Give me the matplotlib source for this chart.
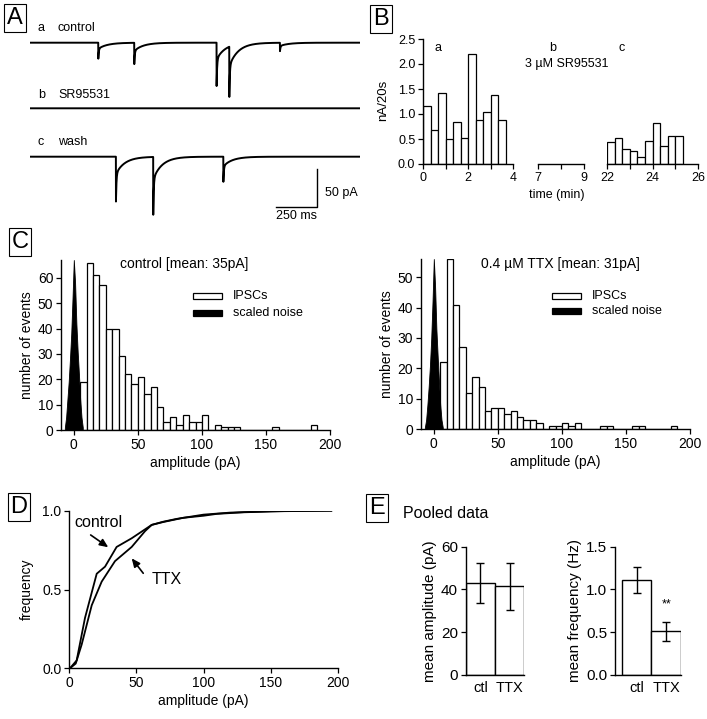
import numpy as np
import matplotlib
matplotlib.use("Agg")
import matplotlib.pyplot as plt
from matplotlib.patches import Rectangle

plt.rcParams['font.family'] = ['Liberation Sans', 'DejaVu Sans']

# ---------------- data ----------------
# Panel A: events (time ms, amplitude pA) in each sweep
trace_labels = ["a", "b", "c"]
trace_names = ["control", "SR95531", "wash"]
ev_a_t = [414, 632, 1131, 1208, 1515]
ev_a_amp = [21, 28, 57, 66, 11]
ev_b_t = []
ev_b_amp = []
ev_c_t = [521, 747, 1172]
ev_c_amp = [59, 76, 33]
scale_pA = 50
scale_ms = 250

# Panel B: charge per 20 s bin (nA/20s)
b_bin_min = 1 / 3
b_ctl_start = 0
b_ctl_vals = [1.17, 0.69, 1.42, 0.51, 0.85, 0.52, 2.21, 0.88, 1.04, 1.38, 0.89]
b_wash_start = 22
b_wash_vals = [0.44, 0.53, 0.31, 0.26, 0.15, 0.47, 0.83, 0.37, 0.57, 0.56]

# Panel C: amplitude histograms (5 pA bins, first bin starts at 5 pA)
hist_bin = 5
hist_start = 5
ctl_counts = [19, 66, 61, 57, 40, 40, 29, 22, 18, 21, 14, 17, 9, 3, 5, 2, 6, 3, 3, 6,
              0, 2, 1, 1, 1, 0, 0, 0, 0, 0, 1, 0, 0, 0, 0, 0, 2]
ttx_counts = [22, 56, 41, 27, 12, 17, 14, 6, 7, 7, 5, 6, 4, 3, 3, 2, 0, 1, 1, 2,
              1, 2, 0, 0, 0, 1, 1, 0, 0, 0, 1, 1, 0, 0, 0, 0, 1]
noise_x = [-7, -6, -5, -4, -3, -2, -1, 0, 1, 2, 3, 4, 5, 6, 7]
ctl_noise = [1, 5, 12, 19, 28, 38, 52, 67, 58, 42, 31, 22, 12, 5, 1]
ttx_noise = [0.5, 3, 8, 14, 21, 30, 42, 56, 47, 33, 24, 16, 8, 3, 0.5]

# Panel D: cumulative amplitude distributions
cdf_ctl_x = [0, 0.7, 5.7, 11.9, 20.6, 26.8, 35.4, 46.6, 61.5, 70, 80, 100, 120, 150, 195]
cdf_ctl_y = [0, 0, 0.05, 0.32, 0.60, 0.645, 0.77, 0.825, 0.91, 0.93, 0.948, 0.975, 0.988, 0.997, 1.0]
cdf_ttx_x = [0, 0.7, 5, 9.4, 16.9, 24.3, 34.2, 46.6, 56.5, 61.5, 70, 85, 100, 110, 130, 160, 195]
cdf_ttx_y = [0, 0, 0.03, 0.15, 0.40, 0.55, 0.68, 0.77, 0.87, 0.91, 0.928, 0.955, 0.968, 0.98, 0.99, 0.997, 1.0]

# Panel E: pooled data
e_cats = ["ctl", "TTX"]
e_amp = [43, 41.5]
e_amp_err = [9.5, 11]
e_freq = [1.11, 0.51]
e_freq_err = [0.15, 0.115]

# ---------------- layout helpers ----------------
W, H = 707, 719
fig = plt.figure(figsize=(W / 100, H / 100), dpi=100)


def add_ax(x0, y0, x1, y1):
    return fig.add_axes([x0 / W, 1 - y1 / H, (x1 - x0) / W, (y1 - y0) / H])


def ftext(x, y, s, **kw):
    kw.setdefault('va', 'center')
    return fig.text(x / W, 1 - y / H, s, **kw)


def box_letter(x, y, s):
    ftext(x, y, s, ha='center', fontsize=17,
          bbox=dict(boxstyle='square,pad=0.12', fc='white', ec='black', lw=0.8))


def style(ax, fs, left=True):
    for sp in ['top', 'right']:
        ax.spines[sp].set_visible(False)
    if not left:
        ax.spines['left'].set_visible(False)
        ax.tick_params(axis='y', left=False, labelleft=False)
    for sp in ['left', 'bottom']:
        ax.spines[sp].set_linewidth(1.0)
    ax.tick_params(direction='out', length=3.5, width=0.9, labelsize=fs, pad=2)
    ax.patch.set_alpha(0)


# ---------------- Panel A ----------------
axA = add_ax(30, 15, 360, 220)
axA.set_axis_off()
px_per_pA = 0.76
axA.set_xlim(0, 2000)
axA.set_ylim(-(220 - 30) / px_per_pA, (30 - 15) / px_per_pA)
t = np.arange(0, 2000, 0.5)


def sweep(times, amps):
    y = np.zeros_like(t)
    for ti, ai in zip(times, amps):
        dt = t - ti
        m = dt >= 0
        d = dt[m]
        y[m] -= ai * (0.62 * np.exp(-d / 3.0) + 0.38 * np.exp(-d / 55.0))
    return y


offsets = [-(42.7 - 30) / px_per_pA, -(108.3 - 30) / px_per_pA, -(156.7 - 30) / px_per_pA]
label_y = [28, 95, 142]
for (times, amps), off, lab, name, ly in zip([(ev_a_t, ev_a_amp), (ev_b_t, ev_b_amp), (ev_c_t, ev_c_amp)],
                                             offsets, trace_labels, trace_names, label_y):
    axA.plot(t, sweep(times, amps) + off, color='black', lw=1.4)
    ftext(38, ly, lab, fontsize=9)
    ftext(58, ly, name, fontsize=9)

sb_x = (317 - 30) / 0.165
sb_y = -(207 - 30) / px_per_pA
axA.plot([sb_x - scale_ms, sb_x, sb_x], [sb_y, sb_y, sb_y + scale_pA], color='black', lw=1.0)
ftext(325, 193, f"{scale_pA} pA", fontsize=9)
ftext(297, 216.5, f"{scale_ms} ms", fontsize=9, ha='center')
box_letter(15, 18, "A")

# ---------------- Panel B ----------------
axB1 = add_ax(423, 39, 513, 164)
axB2 = add_ax(538, 39, 584, 164)
axB3 = add_ax(607, 39, 698, 164)
for ax in (axB1, axB2, axB3):
    ax.set_ylim(0, 2.5)
style(axB1, 9)
style(axB2, 9, left=False)
style(axB3, 9, left=False)
axB1.bar(b_ctl_start + np.arange(len(b_ctl_vals)) * b_bin_min, b_ctl_vals, width=b_bin_min,
         align='edge', color='white', edgecolor='black', lw=0.9)
axB3.bar(b_wash_start + np.arange(len(b_wash_vals)) * b_bin_min, b_wash_vals, width=b_bin_min,
         align='edge', color='white', edgecolor='black', lw=0.9)
axB1.set_xlim(0, 4)
axB1.set_xticks([0, 1, 2, 3, 4])
axB1.set_xticklabels(["0", "", "2", "", "4"])
axB1.set_yticks([0, 0.5, 1.0, 1.5, 2.0, 2.5])
axB1.set_yticklabels(["0.0", "0.5", "1.0", "1.5", "2.0", "2.5"])
axB2.set_xlim(7, 9)
axB2.set_xticks([7, 8, 9])
axB2.set_xticklabels(["7", "", "9"])
axB3.set_xlim(22, 26)
axB3.set_xticks([22, 23, 24, 25, 26])
axB3.set_xticklabels(["22", "", "24", "", "26"])
ftext(383, 100, "nA/20s", fontsize=9.5, rotation=90, ha='center')
ftext(557, 195, "time (min)", fontsize=9, ha='center')
ftext(438, 48, "a", fontsize=9, ha='center')
ftext(553, 48, "b", fontsize=9, ha='center')
ftext(622, 48, "c", fontsize=9, ha='center')
ftext(567, 63.5, "3 \u00b5M SR95531", fontsize=9, ha='center')
box_letter(381, 19, "B")

# ---------------- Panel C ----------------
axC1 = add_ax(61, 260, 330, 430)
axC2 = add_ax(421, 259, 690, 429)
for ax, counts, noise, ymax, ytk, title, tx, leg_x, leg_y in [
        (axC1, ctl_counts, ctl_noise, 67, range(0, 61, 10), "control [mean: 35pA]", 184, 193, (296, 313)),
        (axC2, ttx_counts, ttx_noise, 56, range(0, 51, 10), "0.4 \u00b5M TTX [mean: 31pA]", 560, 552, (296, 311))]:
    style(ax, 10)
    edges = hist_start + np.arange(len(counts)) * hist_bin
    ax.bar(edges, counts, width=hist_bin, align='edge', color='white', edgecolor='black', lw=0.9, zorder=2)
    ax.fill_between(noise_x, noise, facecolor='black', edgecolor='black', lw=0.6, zorder=3)
    ax.set_xlim(-10, 200)
    ax.set_ylim(0, ymax)
    ax.set_xticks([0, 50, 100, 150, 200])
    ax.set_yticks(list(ytk))
    ax.set_xlabel("amplitude (pA)", fontsize=10, labelpad=3)
    ax.set_ylabel("number of events", fontsize=10, labelpad=3)
    ftext(tx, 264, title, fontsize=10, ha='center')
    # legend
    for (yy, fc) in zip(leg_y, ['white', 'black']):
        r = Rectangle((leg_x / W, 1 - (yy + 2.8) / H), 29 / W, 5.6 / H, transform=fig.transFigure,
                      fc=fc, ec='black', lw=0.9)
        fig.patches.append(r)
    ftext(leg_x + 40, leg_y[0], "IPSCs", fontsize=9)
    ftext(leg_x + 40, leg_y[1], "scaled noise", fontsize=9)
box_letter(20, 242, "C")

# ---------------- Panel D ----------------
axD = add_ax(69, 510.7, 338, 668.3)
style(axD, 10)
axD.plot(cdf_ctl_x, cdf_ctl_y, color='black', lw=1.3)
axD.plot(cdf_ttx_x, cdf_ttx_y, color='black', lw=1.3)
axD.set_xlim(0, 200)
axD.set_ylim(0, 1.0)
axD.set_xticks([0, 50, 100, 150, 200])
axD.set_yticks([0, 0.5, 1.0])
axD.set_yticklabels(["0.0", "0.5", "1.0"])
axD.set_xlabel("amplitude (pA)", fontsize=10, labelpad=3)
axD.set_ylabel("frequency", fontsize=10, labelpad=6)
axD.text(3.7, 0.924, "control", fontsize=11.5, va='center')
axD.text(61.5, 0.565, "TTX", fontsize=11.5, va='center')
arrow = dict(arrowstyle='-|>,head_length=0.5,head_width=0.22', color='black', lw=1.2, shrinkA=0, shrinkB=0)
axD.annotate("", xy=(29.2, 0.768), xytext=(16.1, 0.846), arrowprops=arrow)
axD.annotate("", xy=(46.6, 0.698), xytext=(55.2, 0.603), arrowprops=arrow)
box_letter(19, 507, "D")

# ---------------- Panel E ----------------
axE1 = add_ax(465.7, 546.7, 524.3, 675)
axE2 = add_ax(615, 546.7, 681, 675)
style(axE1, 11)
style(axE2, 11)
x = np.arange(len(e_cats))
axE1.bar(x, e_amp, width=1, color='white', edgecolor='black', lw=1.0)
axE1.errorbar(x, e_amp, yerr=e_amp_err, fmt='none', ecolor='black', elinewidth=1.0, capsize=2.6, capthick=1.0)
axE1.set_xlim(-0.5, 1.5)
axE1.set_ylim(0, 60)
axE1.set_yticks([0, 20, 40, 60])
axE1.set_ylabel("mean amplitude (pA)", fontsize=11, labelpad=3)
axE2.bar(x, e_freq, width=1, color='white', edgecolor='black', lw=1.0)
axE2.errorbar(x, e_freq, yerr=e_freq_err, fmt='none', ecolor='black', elinewidth=1.0, capsize=2.6, capthick=1.0)
axE2.set_xlim(-0.73, 1.5)
axE2.set_ylim(0, 1.5)
axE2.set_yticks([0, 0.5, 1.0, 1.5])
axE2.set_yticklabels(["0.0", "0.5", "1.0", "1.5"])
axE2.set_ylabel("mean frequency (Hz)", fontsize=11, labelpad=3)
for ax in (axE1, axE2):
    ax.set_xticks(x)
    ax.set_xticklabels(e_cats, fontsize=10.5)
    ax.tick_params(axis='x', length=0, pad=4)
ftext(667, 604, "**", fontsize=9, ha='center')
ftext(403, 513, "Pooled data", fontsize=11.5)
box_letter(377, 508, "E")

fig.savefig("out.png", dpi=100)
